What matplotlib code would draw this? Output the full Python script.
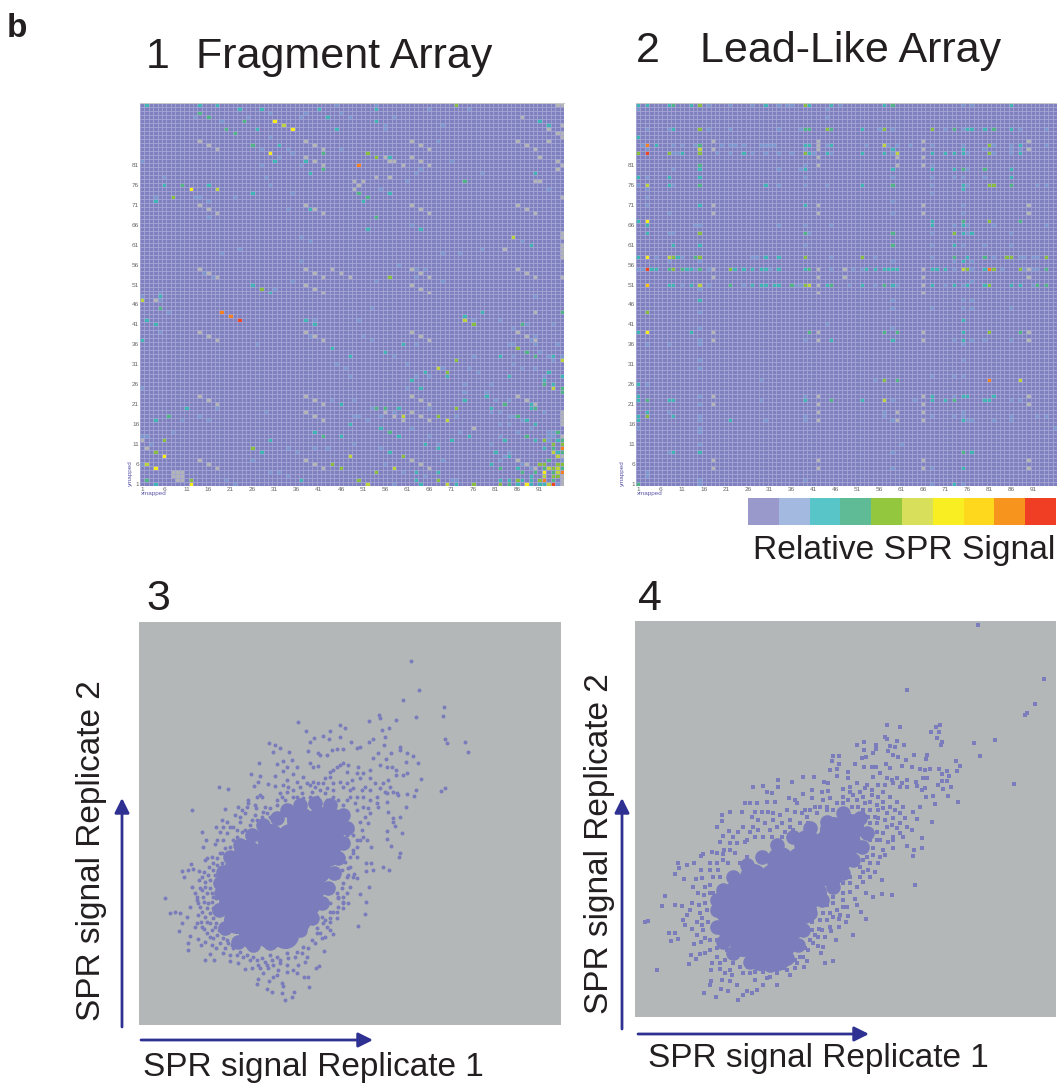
import matplotlib
matplotlib.use('Agg')
import matplotlib.pyplot as plt
import numpy as np
from matplotlib.colors import ListedColormap, BoundaryNorm

W, H = 1057, 1083
plt.rcParams['font.family'] = ['Liberation Sans', 'DejaVu Sans']

# heatmap colours, index = signal level (10 = unmapped grey)
level_colors = ['#7f80bf', '#7b97cf', '#3fb4b4', '#4fb483', '#86bd3c', '#bcd23c',
                '#f6ea1c', '#fdc010', '#f47f20', '#ec4524', '#b1b3b5']
bar_colors = ['#9a99cb', '#a3b9e0', '#58c5c9', '#5fbb95', '#93c83e', '#d8df5a',
              '#f9ee22', '#fed81c', '#f7941d', '#ef3e23']
tick_values = list(range(1, 96, 5))
y_tick_values = list(range(1, 82, 5))

# Fragment array cells as (column, row)
frag_grey = [(14,87),(38,87),(16,86),(40,86),(18,85),(42,85),(38,83),(40,82),(42,81),(14,71),(38,71),(16,70),(40,70),(18,69),(42,69),
    (14,55),(38,55),(44,55),(16,54),(40,54),(46,54),(18,53),(42,53),(48,53),(38,51),(40,50),(42,49),
    (95,96),(96,96),(87,93),(96,91),(93,90),(95,89),(96,89),(96,88),(62,87),(86,87),(93,87),(64,86),(88,86),(66,85),(90,85),(56,83),(62,83),(91,83),
    (57,82),(58,82),(64,82),(95,82),(60,81),(66,81),(96,81),(95,80),(54,78),(57,78),(49,77),(51,77),(90,77),(91,77),(50,76),(49,75),(96,73),
    (62,71),(86,71),(64,70),(88,70),(66,69),(90,69),(96,64),(96,63),(83,60),(96,61),(96,60),(96,59),(96,58),(62,55),(86,55),(64,54),(88,54),
    (66,53),(90,53),(96,53),(62,51),(64,50),(66,49),
    (4,47),(14,39),(38,39),(16,38),(40,38),(18,37),(42,37),(14,23),(38,23),(16,22),(40,22),(18,21),(42,21),(38,19),(40,18),(42,17),(1,12),(2,10),
    (14,7),(38,7),(16,6),(40,6),(18,5),(42,5),(8,4),(9,4),(10,4),(8,3),(9,3),(10,3),(9,2),(10,2),
    (90,44),(62,39),(86,39),(64,38),(88,38),(66,37),(90,37),(62,23),(86,23),(64,22),(88,22),(66,21),(90,21),(56,19),(62,19),(96,19),(96,18),(96,17),(96,16),
    (58,18),(64,18),(60,17),(66,17),(76,15),(96,13),(96,8),(62,7),(86,7),(64,6),(88,6),(66,5),(90,5),(96,3),(96,2),(96,1)]
frag_blue = [(45,96),(30,94),(38,94),(46,94),(13,93),(25,93),(37,93),(48,93),(19,92),(30,88),(28,85),(34,85),(46,85),(35,84),(32,83),(1,82),(28,81),(37,81),
    (6,78),(29,78),(30,76),(35,74),(4,73),(13,73),(14,73),(22,73),(16,72),(34,70),(16,68),(37,63),(39,62),(23,60),(19,59),(37,57),(15,54),(17,53),(35,52),(31,50),(5,49),
    (54,96),(66,95),(75,95),(58,93),(56,91),(69,91),(56,90),(68,87),(71,82),(64,80),(63,79),(78,79),(61,77),(55,75),(93,75),(62,66),(87,62),(69,59),(73,59),(78,60),
    (59,56),(63,55),(65,55),(63,53),(54,52),(69,52),
    (1,48),(5,47),(7,44),(40,42),(5,39),(39,38),(27,36),(45,31),(47,30),(48,28),(1,25),(44,22),(18,20),(29,19),(14,18),(10,17),(16,17),(8,14),(1,13),(2,13),(3,11),
    (34,10),(40,10),(43,10),(36,9),(26,7),(1,6),(30,4),(32,4),(34,3),(20,2),(22,1),
    (90,48),(53,45),(50,42),(76,42),(82,42),(88,41),(94,41),(85,40),(51,38),(90,38),(53,37),(89,37),(63,36),(84,36),(85,36),(90,36),(95,36),(91,34),(58,33),(76,33),
    (85,33),(93,33),(96,33),(94,32),(61,31),(85,31),(69,30),(75,30),(87,30),(90,30),(77,29),(63,28),(66,28),(92,28),(74,26),(80,26),(61,25),(74,24),(79,24),(49,22),
    (81,22),(84,22),(53,20),(66,20),(58,19),(80,19),(82,19),(92,19),(49,18),(50,18),(55,18),(72,18),(84,18),(85,18),(52,17),(87,17),(82,16),(84,16),(62,15),(89,15),
    (73,14),(86,14),(93,14),(94,14),(66,13),(82,13),(93,13),(94,13),(93,12),(49,11),(68,11),(80,11),(55,10),(84,9),(83,8),(69,7),(82,7),(96,7),(56,6),(87,6),(89,5),
    (60,4),(65,3),(71,2),(72,2),(58,1),(95,1)]
frag_teal = [(2,96),(14,96),(18,96),(23,95),(28,95),(41,95),(43,93),(27,90),(45,90),(32,86),(31,82),(38,82),(39,79),(6,76),(16,76),(26,74),(4,72),(39,70),(26,51),(30,49),
    (54,95),(54,92),(91,92),(93,91),(57,83),(90,79),(57,74),(51,72),(52,65),(64,65),(89,61),
    (5,48),(2,42),(38,42),(4,41),(40,41),(1,37),(44,35),(48,33),(46,21),(11,20),(4,17),(48,16),(40,14),(46,13),(30,12),(28,9),(37,2),(4,1),
    (78,44),(74,43),(60,36),(56,34),(82,33),(94,33),(65,29),(93,29),(70,28),(84,28),(96,28),(62,27),(92,27),(94,26),(64,25),(79,23),(74,22),(59,20),(80,20),(89,21),(89,20),
    (88,17),(55,15),(90,16),(59,13),(75,13),(71,12),(83,12),(90,12),(95,12),(65,11),(68,10),(92,10),(57,9),(81,9),(95,9),(84,8),(80,6),(86,5),(63,4),(68,4),(89,3),(63,2),
    (82,2),(84,2),(87,2),(89,2),(64,1),(72,1),(86,1),(89,1),(91,1),(92,1)]
frag_green = [(14,94),(16,93),(24,92),(20,90),(22,89),(26,86),(42,84),(42,80),(10,76),(74,77),(50,74),(52,73),(54,68),(5,45),(7,18),(42,13),(2,2),
    (96,44),(87,41),(88,34),(90,33),(92,26),(96,25),(96,24),(83,21),(54,20),(56,20),(90,20),(86,18),(57,14),(95,14),(88,13),(96,12),(94,10),(96,9),(93,7),(82,5),(92,5),(96,5),
    (87,4),(90,4),(94,4),(94,2),(84,1)]
frag_olive = [(28,50),(8,73),(72,96),(52,84),(54,83),(57,53),(6,12),(26,10),(4,9),(44,6),(46,5),(12,2),(76,41),(86,35),(72,32),(70,29),(72,20),(68,18),(92,12),(94,11),(96,11),
    (60,8),(91,6),(92,6),(95,6),(96,6),(94,5),(54,4),(94,3),(95,3),(50,2),(68,2),(86,2),(91,2),(76,1),(82,1)]
frag_lime = [(33,91),(18,75),(85,63),(1,47),(2,6),(48,8),(74,42),(96,32),(68,30),(94,25),(60,18),(70,17),(94,9),(95,8),(58,5),(93,5),(95,5),(95,4),(92,3),(52,1),(70,1),(93,1)]
frag_yellow = [(31,92),(35,90),(30,84),(12,75),(6,8),(4,5),(12,1),(92,4),(88,1)]
frag_orange = [(50,81),(19,44),(21,43),(96,10),(96,4),(92,2)]
frag_red = [(23,42),(94,1)]

# Lead-like array cells as {row: columns}
lead_grey = {87:[18,42,66,90], 86:[42], 85:[18,42,66,90], 83:[42,60,66], 81:[42,60,66], 71:[18,42,66,90], 69:[18,42,66,90],
    55:[18,42,48,66,90], 53:[18,42,48,66,90], 51:[42,66], 49:[42,66], 39:[18,42,66,90], 37:[18,42,66,90], 23:[18,42,66,90],
    21:[18,42,66,90], 19:[42,60,66], 17:[42,60,66], 7:[18,42,66,90], 5:[18,42,66,90]}
lead_blue = {96:[17,22,27,33,35,36,47,75,77], 95:[1,44], 93:[44], 90:[3,8,17,22,33,38,56,59,71,75,88,94],
    86:[2,9,11,14,20,22,23,25,29,30,31,32,44,53,58,60,63,68,75,82,86,94], 85:[3,39,80,86,88], 84:[9,10,19,22,27,30,33,36,41,45,59,76,82,86],
    81:[39,68], 80:[9,33,38,76], 78:[3,39,59,68,73,75,80], 76:[1,9,33,39,44,68,76,92,94], 75:[3], 74:[68], 73:[3], 72:[59], 71:[3,75], 69:[8,59,75],
    66:[14,15,33,39,45,73,76,82,94], 64:[8,9,40,68,76,86], 61:[39,68,75,80,86], 58:[5,11,27,28,45,55,68,82,88,89,91,92], 57:[8,15,59,73,77],
    55:[1,2,14,17,31,45,50,52,73,77,84,89,91,92], 52:[77], 51:[11,17,25,37,38,49,55,60,71,75,91], 50:[15],
    47:[59,75,77], 45:[59,68,75,77,86], 44:[15], 41:[44], 40:[15,59], 37:[15,39,73,77,80,86], 36:[3,8,15,75], 32:[15,75], 30:[15], 28:[68,73,75], 27:[29,55],
    26:[3], 23:[15,39,73], 22:[29,59,64,86,88], 21:[15], 19:[8,57,75], 18:[15,39,57,68,73,75,86,92,94], 17:[15,30,39,59,76,77,82,86], 15:[1,15,96], 14:[15],
    11:[15,61], 9:[8,59], 5:[59,68], 4:[3], 3:[3], 2:[15,39], 1:[15,68,75]}
lead_teal = {96:[1,3,8,13,30,40,45,57,86], 90:[9,52,76,77,80,86], 88:[1], 86:[5,39,40,45,88], 85:[59,75], 84:[11,25,40,44,52,57,68,71,73,75,88],
    80:[15,39,59,68,73,86], 78:[1,8,15,86], 76:[8,30,52,75], 75:[75], 71:[15,39], 67:[1,68], 66:[3,68,75], 64:[3,75,77], 61:[9,15,73], 58:[1,10,30,33,39,76], 57:[75],
    55:[4,5,12,13,23,25,27,29,30,33,39,53,55,57,58,59,60,68,69,71,80], 51:[8,9,13,27,29,30,32,33,44,52,59,68,73,76,80,86,88],
    47:[15], 42:[75], 39:[1,13,75], 37:[45,59,75], 26:[1], 23:[1,68,75,76,82], 22:[1,8,9,39,52,68,71,80,81], 19:[3], 18:[1,9], 17:[1,22,75], 9:[9,15,77], 5:[75], 1:[73]}
lead_green = {96:[9,59], 90:[39,40,45,73,82], 86:[15], 81:[15], 80:[75,80], 76:[15,59,86], 67:[75,88], 64:[39,59], 61:[59], 58:[14,73,80],
    55:[8,11,15,40,94], 51:[22,36,45,57,92,94], 39:[40,57,60,88], 27:[60], 22:[3,45,73], 9:[75], 1:[1]}
lead_olive = {96:[15,39], 90:[15,44,57,68], 86:[81], 84:[1,8,15,39,81], 76:[81,82], 67:[81], 64:[15,73], 58:[9,15,39,52,85,86,94], 55:[9,22,76,82,88], 51:[39,81], 44:[3], 39:[81], 27:[57], 18:[3]}
lead_lime = {86:[57], 85:[15], 84:[60], 76:[3], 58:[8], 55:[75], 51:[15,40], 27:[88], 22:[57]}
lead_yellow = {67:[3], 58:[3], 39:[3]}
lead_gold = {51:[3]}
lead_orange = {86:[3], 55:[81], 27:[81]}
lead_red = {84:[3], 55:[3]}

# Scatter values (picture scale, replicate 2 grows downward)
rep3_core = [(510,540),(570,540),(610,545),(420,590),(480,590),(540,590),(600,590),(350,640),(410,640),(470,640),(530,640),(590,640),
    (320,690),(380,690),(440,690),(500,690),(560,690),(310,740),(370,740),(430,740),(490,740),(545,740),(305,790),(365,790),(425,790),(485,790),(530,790),
    (320,840),(380,840),(440,840),(500,840),(365,885),(420,885),(465,885)]
rep3_ring = [(272,760),(268,810),(285,865),(325,905),(370,915),(420,908),(470,895),(510,870),(545,835),(575,790),(595,745),(612,700),(625,655),(640,610),(650,565),(640,525),
    (600,495),(555,490),(510,495),(470,510),(440,535),(400,555),(365,585),(330,615),(300,650),(280,695),(270,730)]
rep3_points = [(842,64),(866,150),(819,180),(943,201),(938,227),(859,231),(747,224),(749,233),(717,244),(798,241),(777,263),(756,270),(503,245),(527,273),(600,273),(629,255),(645,264),
    (578,287),(551,293),(540,307),(598,298),(631,292),(663,307),(764,292),(762,315),(729,298),(718,307),(945,296),(951,310),(1005,307),(1013,337),(418,309),(435,315),(450,323),(428,337),
    (477,336),(535,333),(811,320),(811,330),(830,340),(848,347),(863,369),(829,365),(783,338),(745,340),(768,356),(730,355),(690,320),(680,325),(620,326),(640,328),(605,330),(590,345),
    (565,340),(570,345),(550,380),(563,377),(540,370),(500,382),(486,360),(460,362),(440,372),(387,369),(364,403),(390,407),(435,408),(460,392),(490,402),(470,380),(266,440),(294,446),
    (373,438),(385,427),(414,432),(436,437),(458,436),(874,418),(830,400),(820,405),(797,405),(798,390),(785,380),(770,380),(750,376),(720,390),(685,382),(945,445),(934,454),(857,450),
    (852,467),(831,463),(828,500),(810,532),(790,535),(790,545),(796,557),(772,572),(817,578),(771,596),(784,618),(810,640),(807,650),(722,620),(680,652),(708,668),(722,668),(728,690),
    (709,694),(758,682),(778,690),(716,741),(690,763),(707,787),(704,823),(684,859),(655,683),(654,704),(672,702),(680,715),(185,510),(286,506),(215,576),(228,600),(218,620),(254,612),
    (258,560),(275,540),(105,774),(120,820),(135,816),(150,818),(180,800),(172,830),(155,850),(146,873),(180,889),(173,909),(175,931),(212,916),(205,897),(225,961),(252,961),(240,942),
    (300,964),(324,970),(345,988),(365,984),(390,985),(415,985),(380,1033),(385,1018),(418,1024),(430,1010),(410,1047),(425,1057),(456,1030),(460,1038),(456,1059),(465,1079),(485,1072),
    (491,1057),(537,1042),(522,1010),(535,1012),(566,978),(558,985),(582,933),(610,882),(585,892),(155,692),(175,690),(190,688),(207,692),(162,710),(183,673),(185,741),(390,465),(395,472),
    (355,480),(355,490),(325,500),(335,510),(375,495),(378,505),(400,515),(375,525),(345,518),(225,660),(245,650),(260,655),(270,640),(250,690),(215,710),(225,725),(210,745),(240,745),
    (220,770),(200,770),(205,790),(235,790),(250,770),(215,815),(240,820),(200,850),(215,860),(240,850),(255,860),(230,880),(250,895),(280,895),(295,910),(310,925),(330,935),(350,945),
    (370,950),(395,955),(420,945),(440,950),(470,940),(500,935),(520,920),(545,900),(570,880),(590,860),(600,835),(620,815),(640,790),(625,770),(650,760),(280,600),(290,580),(310,560),
    (330,545),(345,570),(300,620),(275,670),(320,590),(350,590),(365,540),(395,530),(410,520),(420,530),(440,480),(455,470),(470,455),(490,450),(510,440),(530,430),(550,425),(470,420),
    (500,470),(520,475),(545,455),(560,470),(580,430),(600,410),(610,390),(630,375),(650,395),(665,420),(690,415),(705,440),(720,450),(740,470),(760,430),(775,420),(770,460),(790,455),
    (805,465),(745,500),(770,487),(775,515),(720,520),(700,500),(680,510),(660,450),(640,440),(610,450),(590,480),(625,480),(650,480),(680,470),(690,545),(660,555),(670,585),(690,600),
    (680,620),(670,640),(650,610),(640,650),(635,690),(625,710),(610,740),(625,775),(640,785),(600,790),(610,815),(575,830),(600,845),(560,880),
    (232,655),(248,668),(262,675),(238,680),(222,695),(235,705),(255,705),(208,720),(240,720),(225,740),(255,730),(195,760),(215,750),(232,760),(245,760),(200,780),(222,785),(245,785),(258,775),
    (210,800),(230,805),(248,805),(262,795),(205,825),(225,830),(250,835),(265,820),(212,845),(232,845),(258,850),(195,860),(222,868),(245,870),(268,870),(240,890),(262,885),(280,880),(225,905),
    (245,915),(270,910),(290,900),(258,925),(285,925),(305,915),(280,940),(300,945),(320,945),(340,950),(360,960),(380,960),(405,965),(425,960),(450,960),(475,955),(495,950),(515,940),(535,925),
    (555,910),(575,895),(600,870),(580,850),(560,865),(385,975),(410,975),(430,975),(450,970),(470,975),(490,990),(505,975),(530,950),(525,965),(500,1000),(470,995),(445,990),(440,1005),(400,1000),
    (620,760),(640,770),(655,790),(625,800),(640,805),(620,835),(600,815),(585,840),(660,740),(640,730),(650,710),(635,745),(670,710),(660,680),(645,665),(660,650),(670,630),(680,600),(700,590),
    (710,600),(695,570),(715,550),(705,530),(665,570),(650,585),(450,460),(475,440),(500,425),(520,410),(540,435),(565,430),(585,415),(600,395),(620,380),(640,370),(655,375),(680,400),(700,400),
    (720,415),(735,430),(750,445),(765,455),(780,440),(800,460),(695,450),(670,445),(650,430),(630,425),(610,430),(590,445),(570,450),(540,470),(515,460),(490,470),(465,480),(440,495),(420,505),
    (405,500),(380,470),(350,500),(330,530),(315,525),(290,545),(280,560),(300,560),(320,570),(270,575),(260,600),(285,625),(275,640),(310,600),(335,575),(360,555),(380,540),(720,480),(700,470),
    (715,505),(740,490),(660,470),(675,490),(640,495),(610,470),(585,460),(555,440)]

rep4_core = [(610,660),(660,650),(530,700),(590,700),(650,700),(450,750),(510,750),(570,750),(620,750),(370,800),(430,800),(490,800),(550,800),(600,790),
    (320,850),(380,850),(440,850),(500,850),(550,850),(295,900),(355,900),(415,900),(475,900),(520,900),(300,950),(360,950),(420,950),(480,950),(340,1000),(400,1000),(460,1000),(390,1040),(440,1040)]
rep4_ring = [(260,900),(262,950),(280,995),(310,1030),(360,1055),(420,1065),(470,1045),(505,1005),(520,960),(540,910),(575,870),(610,830),(640,790),(670,750),(695,710),(710,670),(690,625),
    (640,610),(590,635),(540,655),(490,680),(440,705),(395,740),(350,765),(310,800),(280,840),(260,870)]
rep4_points = [(1045,44),(1241,206),(832,241),(1215,282),(1190,310),(1186,314),(770,344),(810,351),(929,344),(919,351),(926,365),(903,365),(922,385),(937,397),(934,405),(1032,398),(1095,391),
    (1050,439),(1151,522),(978,453),(990,468),(980,482),(765,380),(772,388),(780,407),(795,411),(800,394),(822,405),(680,405),(701,396),(702,420),(738,405),(737,416),(730,428),(773,422),
    (788,436),(804,442),(828,450),(851,436),(892,436),(888,448),(608,437),(628,437),(606,454),(628,462),(622,476),(600,481),(620,497),(676,463),(695,444),(708,440),(654,487),(653,505),
    (703,472),(725,470),(738,470),(768,463),(780,475),(815,468),(845,470),(870,478),(885,481),(900,476),(928,478),(950,482),(935,493),(957,499),(892,503),(880,505),(858,516),(860,528),
    (875,540),(885,533),(950,512),(935,512),(925,525),(963,530),(940,537),(910,557),(953,557),(887,561),(870,592),(915,581),(983,577),(850,605),(860,628),(907,637),(845,660),(875,685),
    (875,713),(852,721),(848,737),(832,709),(856,824),(785,855),(755,853),(730,862),(708,848),(676,868),(682,884),(652,892),(640,892),(692,906),(708,927),(630,915),(655,918),(626,928),
    (648,937),(668,975),(627,951),(600,950),(603,962),(568,958),(565,980),(585,980),(618,989),(565,1007),(578,1012),(574,1030),(610,1053),(586,1060),(530,1052),(522,1070),(81,1081),
    (223,1149),(258,1160),(323,1169),(340,1156),(293,1144),(350,1142),(380,1140),(365,1148),(272,1136),(244,1114),(240,1125),(275,1110),(300,1112),(320,1125),(400,1125),(440,1125),(410,1105),
    (480,1095),(495,1075),(243,1079),(270,1078),(262,1040),(245,1058),(177,1061),(199,1048),(183,1036),(210,1032),(225,1030),(122,994),(144,988),(118,970),(136,969),(212,997),(193,1003),
    (45,935),(53,933),(105,858),(97,888),(136,884),(155,888),(186,880),(206,884),(180,900),(170,915),(160,930),(165,945),(186,958),(200,935),(215,925),(144,760),(146,775),(135,792),(172,765),
    (193,760),(212,780),(163,806),(197,806),(215,805),(190,830),(205,848),(222,855),(240,825),(212,738),(218,733),(245,725),(262,728),(283,720),(280,732),(300,605),(277,615),(275,632),(262,650),
    (296,662),(278,677),(270,697),(310,680),(335,605),(345,580),(360,580),(380,580),(410,575),(370,530),(400,527),(445,510),(445,530),(410,545),(425,548),(487,515),(520,500),(553,500),(583,515),
    (595,520),(478,563),(495,570),(520,553),(545,540),(575,545),(595,542),(640,537),(660,530),(545,565),(500,580),(435,575),(375,605),(395,605),(415,605),(450,615),(430,630),(480,630),(525,600),
    (540,600),(580,570),(600,565),(300,720),(320,700),(345,695),(370,650),(385,660),(400,680),(420,660),(440,650),(455,680),(480,650),(510,640),(530,620),(560,610),(590,600),(620,580),(640,560),
    (660,545),(680,520),(710,525),(730,500),(750,490),(770,505),(790,520),(810,530),(830,510),(760,545),(780,560),(800,575),(820,590),(700,560),(720,575),(745,600),(770,610),(790,625),(810,640),
    (830,650),(740,640),(770,650),(790,680),(810,670),(720,690),(740,690),(760,720),(790,715),(730,715),(710,740),(720,760),(745,760),(700,785),(720,800),(755,810),(690,800),(660,820),(640,850),
    (610,860),(590,885),(600,910),(570,930),(545,960),(540,990),(525,1015),(510,1040),(260,760),(240,780),(270,800),(250,850),(225,880),(210,910),(235,935),(220,960),(240,990),(260,1015),(285,1050),
    (300,1080),(330,1070),(360,1090),(375,1110),(440,1090),(460,1075),(500,1060),
    (640,580),(655,570),(670,555),(690,545),(705,535),(725,540),(745,525),(765,525),(785,510),(800,505),(815,520),(830,530),(745,560),(725,555),(705,580),(685,590),(665,590),(650,605),(680,570),(700,600),
    (720,600),(740,585),(760,575),(780,590),(795,600),(810,610),(825,625),(760,595),(735,620),(715,620),(700,635),(720,640),(745,625),(765,630),(785,645),(800,655),(760,670),(740,665),(720,660),(750,690),
    (775,695),(700,610),(680,640),(665,625),(610,600),(590,590),(570,590),(555,590),(535,640),(515,610),(495,605),(470,600),(455,640),(430,610),(405,640),(385,630),(365,620),(360,665),(340,650),(325,665),
    (350,690),(375,680),(425,680),(465,665),(490,660),(300,700),(315,730),(280,750),(265,780),(295,760),(330,760),(350,740),(240,760),(250,800),(225,830),(240,850),(230,900),(215,945),(200,975),(225,985),
    (240,1020),(260,990),(270,1060),(290,1020),(310,1060),(285,1090),(305,1095),(340,1090),(355,1070),(375,1085),(400,1085),(420,1100),(450,1060),(470,1080),(495,1050),(520,1040),(535,1020),(550,1000),
    (555,975),(575,960),(590,930),(610,920),(620,900),(640,870),(660,845),(680,830),(700,815),(715,780),(735,785),(750,740),(765,735),(700,750),(690,770),(730,735),(790,690),(820,680),(660,800),(640,820),
    (610,880),(580,910),(545,935)]


def add_panel(x0, y0, x1, y1):
    return fig.add_axes([x0 / W, 1 - y1 / H, (x1 - x0) / W, (y1 - y0) / H])


def fill_cells(grid, cells, level):
    for col, row in cells:
        grid[row - 1, col - 1] = level


def fill_rows(grid, rows, level):
    for row, cols in rows.items():
        for col in cols:
            grid[row - 1, col - 1] = level


def draw_array(ax, grid):
    cmap = ListedColormap(level_colors)
    norm = BoundaryNorm(np.arange(-0.5, 11), cmap.N)
    edges = np.arange(0.5, 97.5)
    ax.set_facecolor(level_colors[0])
    # grid lines sit under the coloured cells
    ax.vlines(edges, 0.5, 96.5, color='#a6a7d3', linewidth=0.6)
    ax.hlines(edges, 0.5, 96.5, color='#a6a7d3', linewidth=0.6)
    ax.pcolormesh(edges, edges, np.ma.masked_equal(grid, 0), cmap=cmap, norm=norm, linewidth=0)
    ax.set_xlim(0.5, 96.5)
    ax.set_ylim(0.5, 96.5)
    ax.set_xticks(tick_values)
    ax.set_yticks(y_tick_values)
    ax.tick_params(length=0, pad=0.5, labelsize=4.6, labelcolor='#666666')
    for spine in ax.spines.values():
        spine.set_visible(False)
    ax.spines['top'].set_visible(True)
    ax.spines['top'].set_color('#c9c9c9')


def draw_scatter(ax, core, ring, points, marker, size, xlim, ylim):
    ax.set_facecolor('#b3b7b8')
    ax.scatter(*zip(*core), s=380, color='#7a7cbc', linewidths=0)
    ax.scatter(*zip(*ring), s=110, color='#7a7cbc', linewidths=0)
    ax.scatter(*zip(*points), s=size, marker=marker, color='#7a7cbc', linewidths=0)
    ax.set_xlim(*xlim)
    ax.set_ylim(*ylim)
    ax.set_xticks([])
    ax.set_yticks([])
    for spine in ax.spines.values():
        spine.set_visible(False)


fig = plt.figure(figsize=(W / 100, H / 100), dpi=100)

frag = np.zeros((96, 96))
for cells, level in [(frag_blue, 1), (frag_teal, 2), (frag_green, 3), (frag_olive, 4), (frag_lime, 5),
                     (frag_yellow, 6), (frag_orange, 8), (frag_red, 9), (frag_grey, 10)]:
    fill_cells(frag, cells, level)
draw_array(add_panel(140, 103, 564, 486), frag)

lead = np.zeros((96, 96))
for rows, level in [(lead_blue, 1), (lead_teal, 2), (lead_green, 3), (lead_olive, 4), (lead_lime, 5),
                    (lead_yellow, 6), (lead_gold, 7), (lead_orange, 8), (lead_red, 9), (lead_grey, 10)]:
    fill_rows(lead, rows, level)
draw_array(add_panel(636, 103, 1057, 486), lead)

draw_scatter(add_panel(139, 622, 561, 1025), rep3_core, rep3_ring, rep3_points, 'o', 8, (27, 1293), (1155, -54))
draw_scatter(add_panel(635, 621, 1056, 1017), rep4_core, rep4_ring, rep4_points, 's', 9, (15, 1278), (1221, 33))

# colour scale
bar_ax = add_panel(748, 498, 1056, 525)
bar_ax.imshow([list(range(len(bar_colors)))], cmap=ListedColormap(bar_colors), aspect='auto', interpolation='nearest')
bar_ax.axis('off')

# text and arrows live on one overlay in pixel units
ov = fig.add_axes([0, 0, 1, 1], facecolor='none')
ov.set_xlim(0, W)
ov.set_ylim(H, 0)
ov.axis('off')

ink = '#231f20'
ov.text(7, 37, 'b', fontsize=24, fontweight='bold', color=ink)
ov.text(146, 68, '1', fontsize=31, color=ink)
ov.text(196, 68, 'Fragment Array', fontsize=31, color=ink)
ov.text(636, 62, '2', fontsize=31, color=ink)
ov.text(700, 62, 'Lead-Like Array', fontsize=31, color=ink)
ov.text(146, 610, '3', fontsize=31, color=ink)
ov.text(638, 610, '4', fontsize=31, color=ink)
ov.text(753, 559, 'Relative SPR Signal', fontsize=24.2, color=ink)
ov.text(143, 1076, 'SPR signal Replicate 1', fontsize=24, color=ink)
ov.text(648, 1067, 'SPR signal Replicate 1', fontsize=24, color=ink)
ov.text(107, 851, 'SPR signal Replicate 2', fontsize=24, color=ink, rotation=90, ha='right', va='center')
ov.text(615, 844, 'SPR signal Replicate 2', fontsize=24, color=ink, rotation=90, ha='right', va='center')

ov.text(141, 494, 'xmapped', fontsize=4.5, color='#5a57a8', va='center')
ov.text(637, 494, 'xmapped', fontsize=4.5, color='#5a57a8', va='center')
ov.text(130, 473, 'ymapped', fontsize=4.5, color='#5a57a8', rotation=90, ha='center', va='center')
ov.text(622, 473, 'ymapped', fontsize=4.5, color='#5a57a8', rotation=90, ha='center', va='center')

arrow_style = dict(arrowstyle='-|>', color='#2e3192', lw=2, mutation_scale=22, shrinkA=0, shrinkB=0)
ov.annotate('', xy=(373, 1040), xytext=(141, 1040), arrowprops=arrow_style)
ov.annotate('', xy=(122, 798), xytext=(122, 1027), arrowprops=arrow_style)
ov.annotate('', xy=(869, 1034), xytext=(638, 1034), arrowprops=arrow_style)
ov.annotate('', xy=(622, 798), xytext=(622, 1029), arrowprops=arrow_style)

fig.savefig('out.png', dpi=100)
